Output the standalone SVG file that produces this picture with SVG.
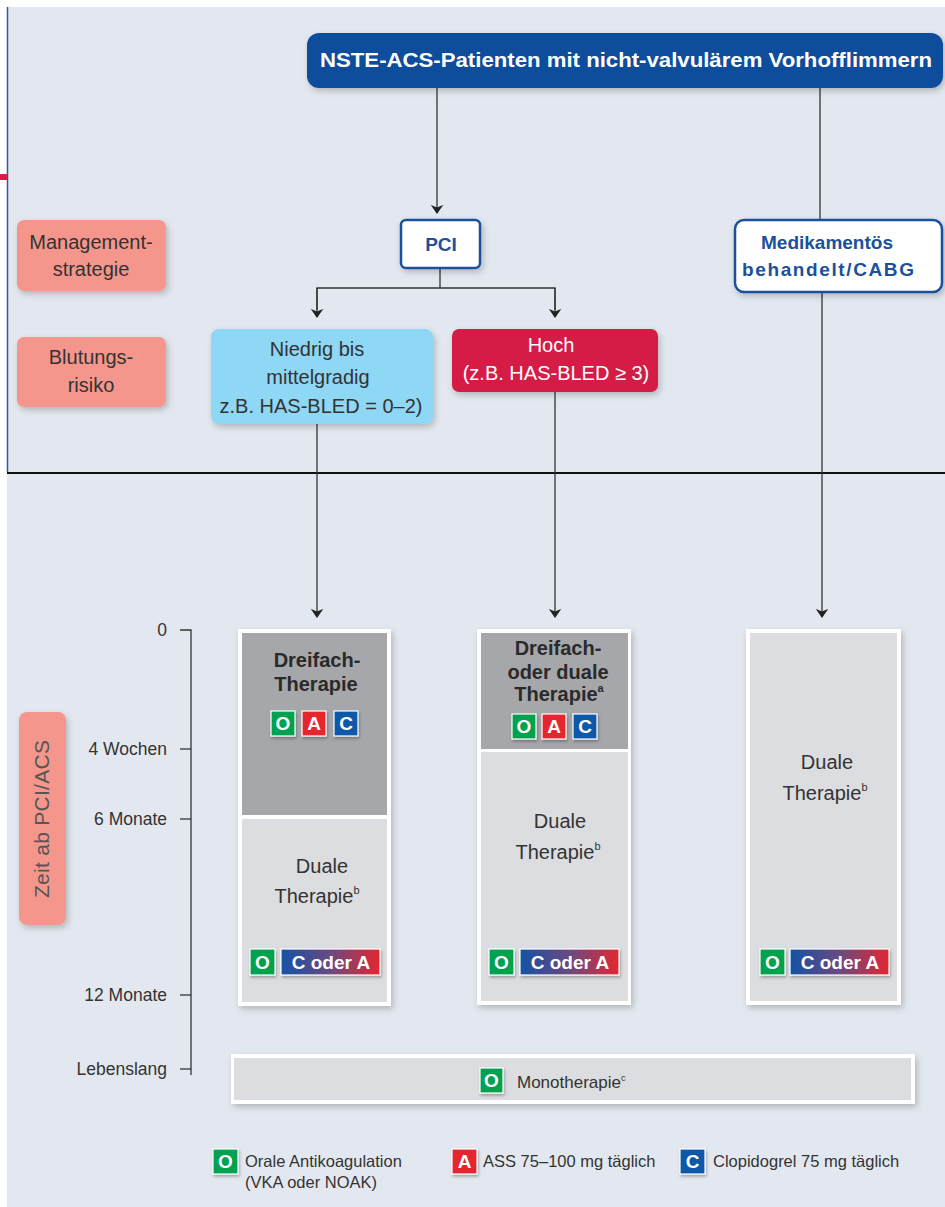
<svg xmlns="http://www.w3.org/2000/svg" width="945" height="1207" viewBox="0 0 945 1207">
<defs>
<filter id="sh" x="-20%" y="-20%" width="140%" height="150%"><feDropShadow dx="2" dy="3" stdDeviation="3" flood-color="#000" flood-opacity="0.22"/></filter>
<filter id="shs" x="-30%" y="-30%" width="160%" height="170%"><feDropShadow dx="1" dy="2" stdDeviation="1.5" flood-color="#000" flood-opacity="0.3"/></filter>
<linearGradient id="ca" x1="0" y1="0" x2="1" y2="0"><stop offset="0" stop-color="#1452a5"/><stop offset="0.5" stop-color="#6a4a80"/><stop offset="1" stop-color="#e52630"/></linearGradient>
<marker id="ar" viewBox="0 0 10 14" refX="9" refY="7" markerWidth="9" markerHeight="13" markerUnits="userSpaceOnUse" orient="auto"><path d="M0,0 L10,7 L0,14 L3,7 Z" fill="#222"/></marker>
</defs>
<style>
text{font-family:"Liberation Sans",Arial,sans-serif;}
.t{font-size:20px;fill:#333;text-anchor:middle;}
.tb{font-size:20px;fill:#2a2a2a;text-anchor:middle;font-weight:bold;}
.bl{font-size:19px;fill:#1a509c;text-anchor:middle;font-weight:bold;}
.w{font-size:20px;fill:#fff;text-anchor:middle;}
.ax{font-size:17.5px;fill:#333;text-anchor:end;}
.bd{font-size:19px;fill:#fff;text-anchor:middle;font-weight:bold;}
.lg{font-size:16.5px;fill:#333;}
.ln{stroke:#333;stroke-width:1.3;fill:none;}
.pink{fill:#f5968c;}
.col{fill:#fff;}
.dk{fill:#a6a7ab;}
.lt{fill:#dcdde0;}
.g{fill:#00a14f;stroke:#fff;stroke-width:1.2;}
.r{fill:#e5252f;stroke:#fff;stroke-width:1.2;}
.b{fill:#0b58a8;stroke:#fff;stroke-width:1.2;}
</style>
<rect width="945" height="1207" fill="#fff"/>
<rect x="7" y="7" width="938" height="1200" fill="#e3e8f0"/>
<line x1="7.5" y1="7" x2="7.5" y2="472" stroke="#2a5aa0" stroke-width="1.5"/>
<rect x="0" y="174" width="7" height="6" fill="#d41f46"/>
<line x1="7" y1="473" x2="945" y2="473" stroke="#111" stroke-width="2"/>

<g id="connectors">
<line class="ln" x1="437" y1="88" x2="437" y2="213" marker-end="url(#ar)"/>
<line class="ln" x1="820" y1="88" x2="820" y2="220"/>
<polyline class="ln" points="440,268 440,288"/>
<polyline class="ln" points="317,310 317,288 555,288 555,310"/>
<line class="ln" x1="317" y1="288" x2="317" y2="317" marker-end="url(#ar)"/>
<line class="ln" x1="555" y1="288" x2="555" y2="317" marker-end="url(#ar)"/>
<line class="ln" x1="317" y1="424" x2="317" y2="617" marker-end="url(#ar)"/>
<line class="ln" x1="555" y1="392" x2="555" y2="617" marker-end="url(#ar)"/>
<line class="ln" x1="822" y1="292" x2="822" y2="617" marker-end="url(#ar)"/>
</g>

<g id="top">
<rect x="307" y="33" width="636" height="55" rx="12" fill="#0f4d9c" filter="url(#sh)"/>
<text x="626" y="67" font-size="19.5" font-weight="bold" fill="#fff" text-anchor="middle" textLength="612" lengthAdjust="spacingAndGlyphs">NSTE-ACS-Patienten mit nicht-valvulärem Vorhofflimmern</text>
</g>

<g id="mgmt">
<rect class="pink" x="17" y="220" width="149" height="71" rx="7" filter="url(#sh)"/>
<text class="t" x="91" y="249" font-size="21">Management-</text>
<text class="t" x="91" y="276" font-size="21">strategie</text>
</g>
<g id="blut">
<rect class="pink" x="17" y="337" width="149" height="70" rx="7" filter="url(#sh)"/>
<text class="t" x="91" y="364" font-size="21">Blutungs-</text>
<text class="t" x="91" y="392" font-size="21">risiko</text>
</g>

<g id="pci">
<rect x="401" y="220" width="79" height="48" rx="5" fill="#fff" stroke="#1a509c" stroke-width="2.5" filter="url(#sh)"/>
<text class="bl" x="441" y="251">PCI</text>
</g>
<g id="medi">
<rect x="735" y="220" width="207" height="72" rx="9" fill="#fff" stroke="#1a509c" stroke-width="2.5" filter="url(#sh)"/>
<text class="bl" x="827" y="249">Medikamentös</text>
<text class="bl" x="828" y="276" textLength="172" lengthAdjust="spacing">behandelt/CABG</text>
</g>

<g id="niedrig">
<rect x="211" y="329" width="222" height="95" rx="8" fill="#8ed7f5" filter="url(#sh)"/>
<text class="t" x="317" y="356">Niedrig bis</text>
<text class="t" x="318" y="384">mittelgradig</text>
<text class="t" x="321" y="413">z.B. HAS-BLED = 0–2)</text>
</g>
<g id="hoch">
<rect x="452" y="329" width="206" height="63" rx="7" fill="#d41f46" filter="url(#sh)"/>
<text class="w" x="551" y="352">Hoch</text>
<text class="w" x="556" y="380">(z.B. HAS-BLED ≥ 3)</text>
</g>

<g id="axis">
<polyline class="ln" points="180,630 191,630 191,1075"/>
<line class="ln" x1="180" y1="749" x2="191" y2="749"/>
<line class="ln" x1="180" y1="819" x2="191" y2="819"/>
<line class="ln" x1="180" y1="995" x2="191" y2="995"/>
<line class="ln" x1="180" y1="1069" x2="191" y2="1069"/>
<text class="ax" x="167" y="636">0</text>
<text class="ax" x="167" y="755">4 Wochen</text>
<text class="ax" x="167" y="825">6 Monate</text>
<text class="ax" x="167" y="1001">12 Monate</text>
<text class="ax" x="167" y="1075">Lebenslang</text>
</g>
<g id="zeit">
<rect class="pink" x="19" y="712" width="47" height="213" rx="8" filter="url(#sh)"/>
<text x="49" y="819" font-size="21" fill="#555" text-anchor="middle" transform="rotate(-90 49 819)" dy="0" textLength="158" lengthAdjust="spacing">Zeit ab PCI/ACS</text>
</g>

<g id="col1">
<rect class="col" x="238" y="629" width="153" height="377" filter="url(#sh)"/>
<rect class="dk" x="242" y="633" width="145" height="182"/>
<rect class="lt" x="242" y="819" width="145" height="183"/>
<text class="tb" x="317" y="667">Dreifach-</text>
<text class="tb" x="316" y="691">Therapie</text>
<g filter="url(#shs)">
<rect class="g" x="271" y="711" width="24" height="25"/>
<rect class="r" x="302" y="711" width="24" height="25"/>
<rect class="b" x="334" y="711" width="24" height="25"/>
</g>
<text class="bd" x="283" y="730">O</text>
<text class="bd" x="314" y="730">A</text>
<text class="bd" x="346" y="730">C</text>
<text class="t" x="322" y="873" font-size="21">Duale</text>
<text class="t" x="317" y="903" font-size="21">Therapie<tspan font-size="11" dy="-9">b</tspan></text>
<g filter="url(#shs)">
<rect class="g" x="250" y="949" width="25" height="26"/>
<rect x="281" y="949" width="99" height="26" fill="url(#ca)" stroke="#fff" stroke-width="1.2"/>
</g>
<text class="bd" x="262.5" y="969">O</text>
<text class="bd" x="331" y="969">C oder A</text>
</g>

<g id="col2">
<rect class="col" x="477" y="629" width="154" height="376" filter="url(#sh)"/>
<rect class="dk" x="481" y="633" width="147" height="116"/>
<rect class="lt" x="481" y="752" width="147" height="249"/>
<text class="tb" x="558" y="655">Dreifach-</text>
<text class="tb" x="558" y="679">oder duale</text>
<text class="tb" x="559" y="701">Therapie<tspan font-size="11" dy="-9">a</tspan></text>
<g filter="url(#shs)">
<rect class="g" x="512" y="714" width="24" height="25"/>
<rect class="r" x="542" y="714" width="24" height="25"/>
<rect class="b" x="573" y="714" width="24" height="25"/>
</g>
<text class="bd" x="524" y="733">O</text>
<text class="bd" x="554" y="733">A</text>
<text class="bd" x="585" y="733">C</text>
<text class="t" x="560" y="828" font-size="21">Duale</text>
<text class="t" x="558" y="859" font-size="21">Therapie<tspan font-size="11" dy="-9">b</tspan></text>
<g filter="url(#shs)">
<rect class="g" x="489" y="949" width="25" height="26"/>
<rect x="520" y="949" width="99" height="26" fill="url(#ca)" stroke="#fff" stroke-width="1.2"/>
</g>
<text class="bd" x="501.5" y="969">O</text>
<text class="bd" x="570" y="969">C oder A</text>
</g>

<g id="col3">
<rect class="col" x="746" y="629" width="155" height="376" filter="url(#sh)"/>
<rect class="lt" x="750" y="633" width="147" height="368"/>
<text class="t" x="827" y="769" font-size="21">Duale</text>
<text class="t" x="825" y="800" font-size="21">Therapie<tspan font-size="11" dy="-9">b</tspan></text>
<g filter="url(#shs)">
<rect class="g" x="760" y="949" width="25" height="26"/>
<rect x="790" y="949" width="99" height="26" fill="url(#ca)" stroke="#fff" stroke-width="1.2"/>
</g>
<text class="bd" x="772.5" y="969">O</text>
<text class="bd" x="840" y="969">C oder A</text>
</g>

<g id="mono">
<rect class="col" x="231" y="1054" width="684" height="50" filter="url(#sh)"/>
<rect class="lt" x="234" y="1058" width="677" height="42"/>
<rect class="g" x="480" y="1068" width="23" height="25" filter="url(#shs)"/>
<text class="bd" x="491.5" y="1087">O</text>
<text x="517" y="1088" font-size="17" fill="#333">Monotherapie<tspan font-size="9" dy="-7">c</tspan></text>
</g>

<g id="legend">
<rect class="g" x="213" y="1149" width="25" height="25" filter="url(#shs)"/>
<text class="bd" x="225.5" y="1168">O</text>
<text class="lg" x="245" y="1167">Orale Antikoagulation</text>
<text class="lg" x="245" y="1188">(VKA oder NOAK)</text>
<rect class="r" x="452" y="1149" width="25" height="25" filter="url(#shs)"/>
<text class="bd" x="464.5" y="1168">A</text>
<text class="lg" x="483" y="1167">ASS 75–100 mg täglich</text>
<rect class="b" x="680" y="1149" width="25" height="25" filter="url(#shs)"/>
<text class="bd" x="692.5" y="1168">C</text>
<text class="lg" x="713" y="1167">Clopidogrel 75 mg täglich</text>
</g>
</svg>
